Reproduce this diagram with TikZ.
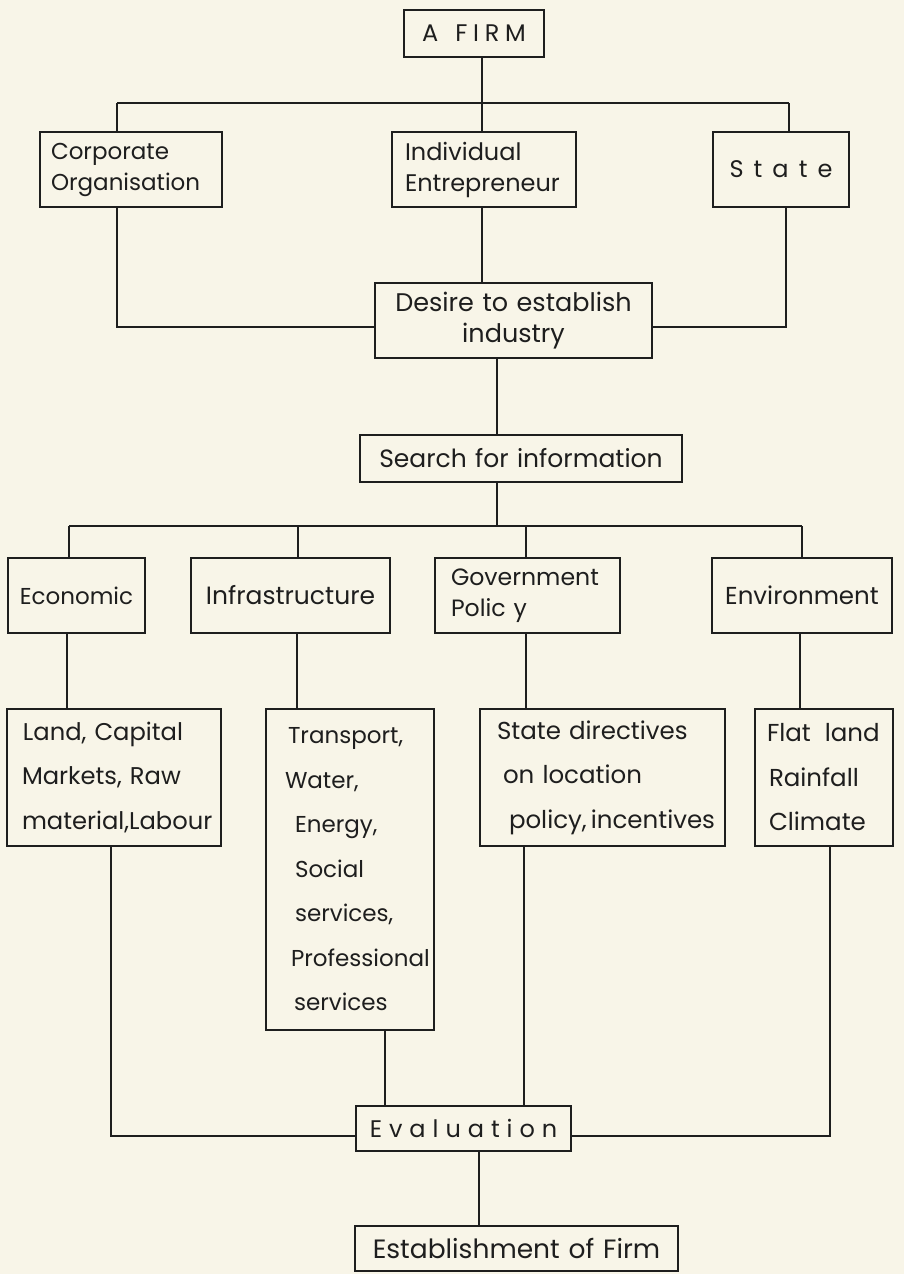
\documentclass[tikz,border=0pt]{standalone}
\usepackage{fontspec}
\setmainfont{Poppins}
\definecolor{paper}{RGB}{248,245,232}
\definecolor{ink}{RGB}{30,30,30}
\newcommand\fs[1]{\fontsize{#1}{31}\selectfont}
\newcommand\ft[1]{\fontsize{#1}{44.5}\selectfont}
\newcommand\ind[1]{\hspace*{#1pt}}
\begin{document}
\begin{tikzpicture}[x=1pt,y=-1pt,line width=1.6pt,draw=ink,text=ink,
  box/.style n args={3}{draw=ink,anchor=north west,inner sep=0pt,outer sep=0pt,
    minimum width=#1pt,minimum height=#2pt,text width=#3pt},
  lbox/.style n args={3}{box={#1}{#2}{#3},align=left},
  cbox/.style n args={3}{box={#1}{#2}{#3},align=center}]
\fill[paper] (0,0) rectangle (904,1274);
\useasboundingbox (0,0) rectangle (904,1274);

% boxes
\node[cbox={140}{47}{136},font=\fs{24}] (firm) at (404,10) {\addfontfeature{LetterSpace=24}A\hspace{17pt}FIRM};
\node[lbox={182}{75}{174},font=\fs{23}] (corp) at (40,132) {\ind{7}Corporate\\\ind{7}Organisation};
\node[lbox={184}{75}{176},font=\fs{24}] (ind) at (392,132) {\ind{9}Individual\\\ind{9}Entrepreneur};
\node[cbox={136}{75}{132},font=\fs{24}] (state) at (713,132) {\addfontfeature{LetterSpace=42}State};
\node[cbox={277}{75}{270},font=\fs{25.5}] (desire) at (375,283) {Desire to establish\\industry};
\node[cbox={322}{47}{316},font=\fs{25}] (search) at (360,435) {Search for information};
\node[cbox={137}{75}{133},font=\fs{23}] (econ) at (8,558) {Economic};
\node[cbox={199}{75}{195},font=\fs{25}] (infra) at (191,558) {Infrastructure};
\node[lbox={185}{75}{177},font=\fs{23.6}] (gov) at (435,558) {\ind{12}Government\\\ind{12}Polic y};
\node[cbox={180}{75}{176},font=\fs{24.5}] (env) at (712,558) {Environment};
\node[lbox={214}{137}{206},font=\ft{24.2}] (land) at (7,709) {\ind{12}Land, Capital\\\ind{11}Markets, Raw\\\ind{11}material,Labour};
\node[lbox={168}{321}{160},font=\ft{23}] (trans) at (266,709) {\ind{18}Transport,\\\ind{15}Water,\\\ind{25}Energy,\\\ind{25}Social\\\ind{25}services,\\\ind{21}Professional\\\ind{24}services};
\node[lbox={245}{137}{237},font=\ft{24.5}] (dir) at (480,709) {\ind{13}State directives\\\ind{19}on location\\\ind{25}policy,\,incentives};
\node[lbox={138}{137}{130},font=\ft{24.5}] (flat) at (755,709) {\ind{8}Flat\hspace{14pt}land\\\ind{10}Rainfall\\\ind{10}Climate};
\node[cbox={215}{45}{211},font=\fs{24}] (eval) at (356,1106) {\addfontfeature{LetterSpace=29}Evaluation};
\node[cbox={323}{45}{319},font=\fs{26.5}] (est) at (355,1226) {Establishment of Firm};

% first level
\coordinate (t) at (482,103);
\coordinate (bl) at (117,103);
\coordinate (br) at (789,103);
\draw (firm.south -| t) -- (t);
\draw (bl) -- (br);
\draw (bl) -- (bl |- corp.north);
\draw (t) -- (t |- ind.north);
\draw (br) -- (br |- state.north);

% to desire
\coordinate (dl) at (117,327);
\coordinate (dr) at (786,327);
\draw (corp.south -| dl) -- (dl) -- (dl -| desire.west);
\draw (state.south -| dr) -- (dr) -- (dr -| desire.east);
\draw (ind.south -| t) -- (t |- desire.north);

% to search
\coordinate (s) at (497,526);
\draw (desire.south -| s) -- (s |- search.north);
\draw (search.south -| s) -- (s);

% second level bus
\coordinate (s1) at (69,526);
\coordinate (s2) at (298,526);
\coordinate (s3) at (526,526);
\coordinate (s4) at (802,526);
\draw (s1) -- (s4);
\draw (s1) -- (s1 |- econ.north);
\draw (s2) -- (s2 |- infra.north);
\draw (s3) -- (s3 |- gov.north);
\draw (s4) -- (s4 |- env.north);

% second to third
\coordinate (u1) at (67,633);
\coordinate (u2) at (297,633);
\coordinate (u3) at (526,633);
\coordinate (u4) at (800,633);
\draw (econ.south -| u1) -- (u1 |- land.north);
\draw (infra.south -| u2) -- (u2 |- trans.north);
\draw (gov.south -| u3) -- (u3 |- dir.north);
\draw (env.south -| u4) -- (u4 |- flat.north);

% to evaluation
\coordinate (el) at (111,1136);
\coordinate (er) at (830,1136);
\coordinate (e2) at (385,1106);
\coordinate (e3) at (524,1106);
\draw (land.south -| el) -- (el) -- (el -| eval.west);
\draw (flat.south -| er) -- (er) -- (er -| eval.east);
\draw (trans.south -| e2) -- (e2 |- eval.north);
\draw (dir.south -| e3) -- (e3 |- eval.north);

% to establishment
\coordinate (f) at (479,1151);
\draw (eval.south -| f) -- (f |- est.north);
\end{tikzpicture}
\end{document}
